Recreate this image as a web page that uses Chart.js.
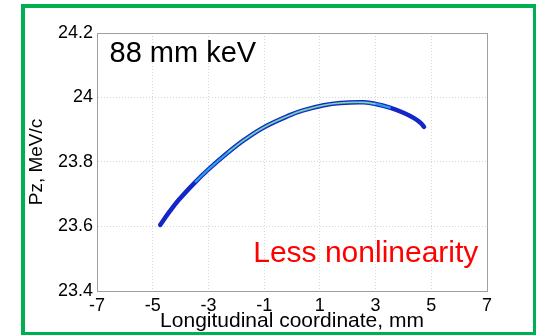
<!DOCTYPE html>
<html>
<head>
<meta charset="utf-8">
<script src="https://cdn.jsdelivr.net/npm/chart.js@4.4.1/dist/chart.umd.min.js"></script>
<style>
  html, body { margin: 0; padding: 0; background: #fff; overflow: hidden; }
  #wrap { position: relative; width: 536px; height: 335px; overflow: hidden; }
  #frame {
    position: absolute; left: 21px; top: 4px; width: 516px; height: 332px;
    box-sizing: border-box; border: 4.5px solid #00b050; pointer-events: none;
  }
  canvas { position: absolute; left: 0; top: 0; }
</style>
</head>
<body>
<div id="wrap">
  <canvas id="chart" width="536" height="335"></canvas>
  <div id="frame"></div>
</div>
<script>
// longitudinal position (mm) and momentum (MeV/c) along the bunch
const zPos = [-4.73, -4.43, -4.07, -3.48, -3.0, -2.29, -1.69, -1.0, -0.05, 0.40, 1.14, 1.74, 2.58, 3.0, 3.54, 4.02, 4.38, 4.62, 4.74]
const pz = [23.605, 23.642, 23.682, 23.737, 23.777, 23.830, 23.870, 23.908, 23.946, 23.960, 23.976, 23.983, 23.985, 23.980, 23.968, 23.952, 23.936, 23.921, 23.909]

const xTicks = [-7, -5, -3, -1, 1, 3, 5, 7]
const yTicks = [23.4, 23.6, 23.8, 24, 24.2]
const yTickLabels = ['23.4', '23.6', '23.8', '24', '24.2']

const emittanceText = '88 mm keV'
const noteText = 'Less nonlinearity'

// dense part of the beam sits between these indices
const midFrom = 3
const midTo = 14
const coreFrom = 5
const coreTo = 13

const beam = zPos.map((z, i) => ({ x: z, y: pz[i] }))
const mid = beam.slice(midFrom, midTo + 1)
const core = beam.slice(coreFrom, coreTo + 1)

const fontFamily = '"Liberation Sans", Arial, Helvetica, sans-serif'

// box around the plot plus the two text notes
const extras = {
  id: 'extras',
  afterDraw(chart) {
    const { ctx, chartArea: a, scales } = chart
    ctx.save()
    ctx.strokeStyle = '#a0a0a0'
    ctx.lineWidth = 1
    ctx.strokeRect(a.left + 0.5, a.top + 0.5, a.right - a.left, a.bottom - a.top)

    ctx.textBaseline = 'alphabetic'
    ctx.fillStyle = '#000'
    ctx.font = '29px ' + fontFamily
    ctx.textAlign = 'left'
    ctx.fillText(emittanceText, scales.x.getPixelForValue(-6.55), scales.y.getPixelForValue(24.109))

    ctx.fillStyle = '#ff0000'
    ctx.font = '30px ' + fontFamily
    ctx.textAlign = 'right'
    ctx.fillText(noteText, scales.x.getPixelForValue(6.69), scales.y.getPixelForValue(23.489))
    ctx.restore()
  }
}

const gridStyle = {
  color: '#d6d6d6',
  lineWidth: 1,
  drawTicks: false
}

const lineStyle = {
  showLine: true,
  pointRadius: 0,
  tension: 0.4
}

new Chart(document.getElementById('chart').getContext('2d'), {
  type: 'scatter',
  data: {
    datasets: [
      {
        label: 'core',
        data: core,
        ...lineStyle,
        borderColor: '#a6e27a',
        borderWidth: 1,
        order: 0
      },
      {
        label: 'mid',
        data: mid,
        ...lineStyle,
        borderColor: '#2e9ee0',
        borderWidth: 2.2,
        order: 1
      },
      {
        label: 'beam',
        data: beam,
        ...lineStyle,
        borderColor: '#1426c8',
        borderWidth: 4.5,
        borderCapStyle: 'round',
        order: 2
      }
    ]
  },
  options: {
    responsive: false,
    animation: false,
    devicePixelRatio: 1,
    layout: { padding: { left: 0, right: 49, top: 33, bottom: 0 } },
    plugins: { legend: { display: false }, tooltip: { enabled: false } },
    scales: {
      x: {
        type: 'linear',
        min: -7,
        max: 7,
        afterBuildTicks: (s) => { s.ticks = xTicks.map(v => ({ value: v })) },
        afterFit: (s) => { s.height = 44 },
        grid: { ...gridStyle },
        border: { display: true, color: '#a0a0a0', dash: [1, 2] },
        ticks: {
          padding: 4,
          color: '#000',
          font: { family: fontFamily, size: 18 },
          maxRotation: 0,
          callback: (v) => String(v)
        },
        title: {
          display: true,
          text: 'Longitudinal coordinate, mm',
          color: '#000',
          font: { family: fontFamily, size: 21 },
          padding: { top: 0, bottom: 1 }
        }
      },
      y: {
        type: 'linear',
        min: 23.4,
        max: 24.2,
        afterBuildTicks: (s) => { s.ticks = yTicks.map(v => ({ value: v })) },
        afterFit: (s) => { s.width = 97 },
        grid: { ...gridStyle },
        border: { display: true, color: '#a0a0a0', dash: [1, 2] },
        ticks: {
          padding: 4,
          color: '#000',
          font: { family: fontFamily, size: 18 },
          callback: (v) => yTickLabels[yTicks.findIndex(t => Math.abs(t - v) < 1e-6)]
        },
        title: {
          display: true,
          text: 'Pz, MeV/c',
          color: '#000',
          font: { family: fontFamily, size: 19 },
          padding: { top: 25, bottom: 0 }
        }
      }
    }
  },
  plugins: [extras]
})
</script>
</body>
</html>
